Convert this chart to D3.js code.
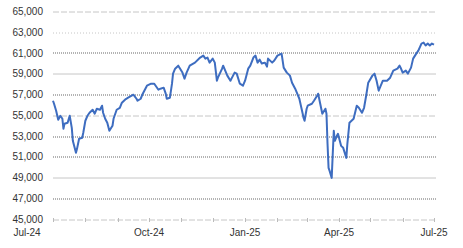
<!DOCTYPE html>
<html>
<head>
<meta charset="utf-8">
<script src="https://cdn.jsdelivr.net/npm/d3@7"></script>
<style>
  body { margin: 0; background: #fff; }
  #chart { width: 463px; height: 248px; }
</style>
</head>
<body>
<div id="chart"></div>
<script>
// Data
const dates = [
  "2024-07-01","2024-07-02","2024-07-04","2024-07-06","2024-07-08","2024-07-10","2024-07-11","2024-07-12",
  "2024-07-15","2024-07-17","2024-07-19","2024-07-20","2024-07-23","2024-07-24","2024-07-26","2024-07-29",
  "2024-07-30","2024-08-01","2024-08-03","2024-08-05","2024-08-08","2024-08-10","2024-08-12","2024-08-15",
  "2024-08-17","2024-08-18","2024-08-20","2024-08-22","2024-08-24","2024-08-27","2024-08-28","2024-08-31",
  "2024-09-03","2024-09-05","2024-09-08","2024-09-11","2024-09-16","2024-09-19","2024-09-20","2024-09-23",
  "2024-09-25","2024-09-29","2024-10-03","2024-10-06","2024-10-10","2024-10-12","2024-10-15","2024-10-17",
  "2024-10-18","2024-10-21","2024-10-23","2024-10-24","2024-10-26","2024-10-29","2024-11-02","2024-11-04",
  "2024-11-06","2024-11-09","2024-11-14","2024-11-19","2024-11-22","2024-11-24","2024-11-26","2024-11-28",
  "2024-12-01","2024-12-03","2024-12-05","2024-12-06","2024-12-10","2024-12-11","2024-12-15","2024-12-18",
  "2024-12-19","2024-12-22","2024-12-24","2024-12-27","2024-12-30","2025-01-01","2025-01-04","2025-01-06",
  "2025-01-09","2025-01-11","2025-01-13","2025-01-15","2025-01-17","2025-01-20","2025-01-22","2025-01-23",
  "2025-01-27","2025-01-29","2025-02-01","2025-02-03","2025-02-05","2025-02-07","2025-02-10","2025-02-13",
  "2025-02-15","2025-02-18","2025-02-20","2025-02-22","2025-02-25","2025-02-26","2025-02-27","2025-03-01",
  "2025-03-02","2025-03-06","2025-03-08","2025-03-11","2025-03-12","2025-03-14","2025-03-16","2025-03-19",
  "2025-03-20","2025-03-21","2025-03-22","2025-03-23","2025-03-25","2025-03-26","2025-03-27","2025-03-28",
  "2025-03-30","2025-03-31","2025-04-03","2025-04-05","2025-04-08","2025-04-09","2025-04-11","2025-04-13",
  "2025-04-15","2025-04-18","2025-04-20","2025-04-23","2025-04-25","2025-04-27","2025-04-29","2025-05-03",
  "2025-05-05","2025-05-07","2025-05-09","2025-05-11","2025-05-13","2025-05-17","2025-05-20","2025-05-23",
  "2025-05-27","2025-05-29","2025-05-30","2025-06-01","2025-06-04","2025-06-06","2025-06-09","2025-06-11",
  "2025-06-14","2025-06-16","2025-06-19","2025-06-21","2025-06-23","2025-06-25","2025-06-27","2025-06-29",
  "2025-07-01"
];

const values = [
  56400, 56110, 55430, 54570, 54950, 54660, 53700, 54180,
  54280, 54950, 53790, 52540, 51380, 51760, 52730, 52830,
  53310, 54470, 54950, 55240, 55530, 55150, 55630, 55530,
  55920, 55240, 54660, 54280, 53500, 53990, 54660, 55530,
  55720, 56210, 56500, 56690, 56980, 56590, 56400, 56590,
  57080, 57850, 58040, 58040, 57460, 57560, 57660, 57080,
  56590, 56690, 58040, 59010, 59490, 59780, 59110, 58530,
  59110, 59780, 60070, 60560, 60750, 60460, 60560, 60070,
  60460, 60070, 58330, 58620, 59490, 59780, 58820, 58330,
  58530, 59110, 59010, 58040, 57850, 58330, 59490, 59780,
  60560, 60750, 60070, 60360, 59980, 60070, 59690, 60460,
  60070, 60270, 60750, 60850, 60940, 59590, 59110, 58820,
  58140, 57560, 57080, 56590, 55240, 54760, 54470, 55630,
  55920, 56110, 56400, 56880, 57080, 56110, 55150, 55630,
  55150, 52250, 49930, 49640, 48960, 51280, 53500, 52540,
  53020, 53210, 52050, 51860, 50890, 52250, 54280, 54470,
  54660, 55920, 55720, 55240, 55720, 56880, 58140, 58820,
  59010, 58330, 57370, 57850, 58330, 58330, 58620, 59300,
  59490, 59780, 59590, 59110, 59300, 59010, 59590, 60460,
  60940, 61230, 61910, 62000, 61720, 61910, 61720, 61910,
  61810
];

const yTicks = [65000, 63000, 61000, 59000, 57000, 55000, 53000, 51000, 49000, 47000, 45000];
const xLabels = ["Jul-24", "Oct-24", "Jan-25", "Apr-25", "Jul-25"];
const xLabelDates = ["2024-07-01", "2024-10-01", "2025-01-01", "2025-04-01", "2025-07-01"];

// Set up SVG container
const W = 463, H = 248;
const margin = { top: 11.5, right: 29, bottom: 29, left: 53 };
const width = W - margin.left - margin.right;
const height = H - margin.top - margin.bottom;

const parse = d3.timeParse("%Y-%m-%d");
const series = dates.map((d, i) => ({ date: parse(d), value: values[i] }));

const svg = d3.select("#chart")
  .append("svg")
  .attr("width", W)
  .attr("height", H)
  .append("g")
  .attr("transform", `translate(${margin.left},${margin.top})`);

const x = d3.scaleTime()
  .domain([parse("2024-07-01"), parse("2025-07-01")])
  .range([0, width]);

const y = d3.scaleLinear()
  .domain([45000, 65000])
  .range([height, 0]);

// gridline looks (aliased look of the original)
const gridStyle = [
  { dash: "6,2", color: "#c6c6c6", w: 1 },
  { dash: "1,2", color: "#c6c6c6", w: 1 },
  { dash: "1,1", color: "#9a9a9a", w: 1.3 },
  { dash: null,  color: "#c6c6c6", w: 1 },
  { dash: "1,1", color: "#9a9a9a", w: 1.3 },
  { dash: "6,2", color: "#c6c6c6", w: 1 },
  { dash: "1,1", color: "#9a9a9a", w: 1.3 },
  { dash: "1,1", color: "#9a9a9a", w: 1.3 },
  { dash: null,  color: "#c6c6c6", w: 1 },
  { dash: "1,1", color: "#9a9a9a", w: 1.3 },
  { dash: "6,2", color: "#c6c6c6", w: 1 }
];

svg.append("g")
  .attr("class", "grid")
  .selectAll("line")
  .data(yTicks)
  .enter()
  .append("line")
  .attr("x1", 0)
  .attr("x2", width + 2)
  .attr("y1", d => Math.round(y(d)) + 0.5)
  .attr("y2", d => Math.round(y(d)) + 0.5)
  .attr("stroke", (d, i) => gridStyle[i].color)
  .attr("stroke-width", (d, i) => gridStyle[i].w)
  .attr("stroke-dasharray", (d, i) => gridStyle[i].dash);

// y axis labels
svg.append("g")
  .attr("class", "y-axis")
  .call(d3.axisLeft(y).tickValues(yTicks).tickSize(0).tickPadding(10).tickFormat(d3.format(",")))
  .call(g => g.select(".domain").remove())
  .selectAll("text")
  .attr("fill", "#333")
  .attr("font-family", "Liberation Sans, Arial, sans-serif")
  .attr("font-size", "10px");

// x axis: month ticks
const axisY = Math.round(y(45000)) + 0.5;
svg.append("g")
  .attr("class", "x-ticks")
  .selectAll("line")
  .data(x.ticks(d3.timeMonth.every(1)))
  .enter()
  .append("line")
  .attr("x1", d => Math.round(x(d)) + 0.5)
  .attr("x2", d => Math.round(x(d)) + 0.5)
  .attr("y1", axisY - 2)
  .attr("y2", axisY + 2)
  .attr("stroke", "#bbb");

svg.append("g")
  .attr("class", "x-labels")
  .selectAll("text")
  .data(xLabels)
  .enter()
  .append("text")
  .attr("x", (d, i) => x(parse(xLabelDates[i])) + (i === 0 ? -26 : 0))
  .attr("y", height + 17)
  .attr("text-anchor", "middle")
  .attr("fill", "#333")
  .attr("font-family", "Liberation Sans, Arial, sans-serif")
  .attr("font-size", "10px")
  .text(d => d);

// line
const line = d3.line()
  .x(d => x(d.date))
  .y(d => y(d.value));

svg.append("path")
  .datum(series)
  .attr("fill", "none")
  .attr("stroke", "#3e6dc0")
  .attr("stroke-width", 2)
  .attr("stroke-linejoin", "round")
  .attr("d", line);
</script>
</body>
</html>
